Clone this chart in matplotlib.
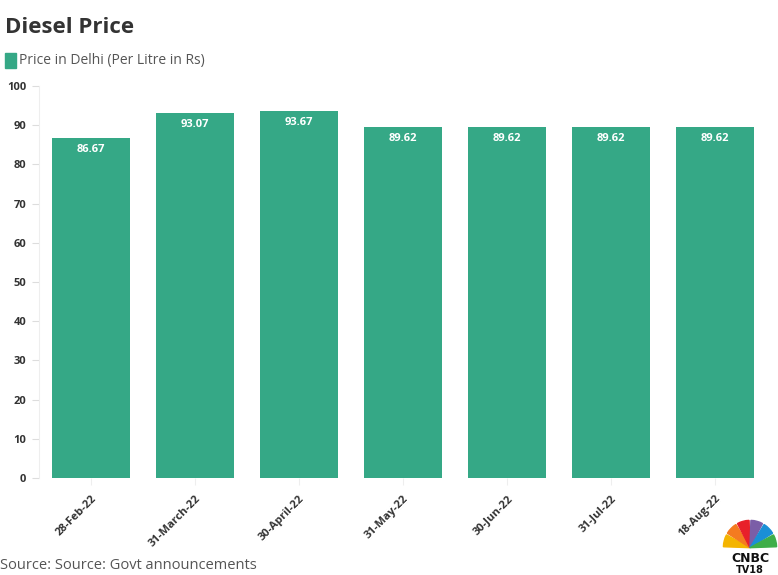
import matplotlib.pyplot as plt
from matplotlib.patches import Wedge

plt.rcParams['font.family'] = ['Open Sans', 'DejaVu Sans']

dates = ['28-Feb-22', '31-March-22', '30-April-22', '31-May-22',
         '30-Jun-22', '31-Jul-22', '18-Aug-22']
prices = [86.67, 93.07, 93.67, 89.62, 89.62, 89.62, 89.62]
yticks = [0, 10, 20, 30, 40, 50, 60, 70, 80, 90, 100]

green = '#35a886'
dark = '#333333'

fig = plt.figure(figsize=(7.78, 5.75), dpi=100)
ax = fig.add_axes([0.0501, 0.1687, 0.9359, 0.6817])

x = range(len(dates))
ax.bar(x, prices, width=0.75, color=green)
for i, v in zip(x, prices):
    ax.text(i, v - 1.5, f'{v:.2f}', ha='center', va='top', color='white',
            fontsize=8, fontweight='bold')

ax.set_xlim(-0.5, len(dates) - 0.5)
ax.set_ylim(0, 100)
ax.set_yticks(yticks)
ax.set_yticklabels([str(t) for t in yticks], fontsize=8, fontweight='bold', color=dark)
ax.set_xticks(list(x))
ax.set_xticklabels(dates, rotation=45, ha='right', rotation_mode='anchor',
                   fontsize=8, fontweight='bold', color=dark)
for s in ['top', 'right', 'bottom']:
    ax.spines[s].set_visible(False)
ax.spines['left'].set_color('#eeeeee')
ax.tick_params(axis='y', length=5, color='#dddddd', pad=4)
ax.tick_params(axis='x', length=5, color='#eeeeee', pad=6)

fig.text(0.006, 0.953, 'Diesel Price', fontsize=16, fontweight='bold', color=dark,
         va='center')
fig.patches.append(plt.Rectangle((0.006, 0.882), 0.015, 0.026, color=green,
                                 transform=fig.transFigure, figure=fig))
fig.text(0.025, 0.895, 'Price in Delhi (Per Litre in Rs)', fontsize=10,
         color='#555555', va='center')
fig.text(0.0, 0.003, 'Source: Source: Govt announcements', fontsize=10.5,
         color='#555555', va='bottom')

# logo
lax = fig.add_axes([0.928, 0.0, 0.072, 0.1])
lax.set_xlim(-1, 1)
lax.set_ylim(-1, 1)
lax.axis('off')
cols = ['#f4b400', '#f47b20', '#e8202a', '#7b5ea7', '#1a8fd6', '#3fae49']
for k, c in enumerate(cols):
    a0 = 180 - k * 30
    lax.add_patch(Wedge((0, -0.05), 0.95, a0 - 28, a0 - 2, color=c))
lax.text(0, -0.42, 'CNBC', ha='center', va='center', fontsize=9,
         fontweight='bold', color='#111111', family='DejaVu Sans')
lax.text(0, -0.82, 'TV18', ha='center', va='center', fontsize=7,
         fontweight='bold', color='#111111', family='DejaVu Sans')

fig.savefig('out.png', dpi=100)
